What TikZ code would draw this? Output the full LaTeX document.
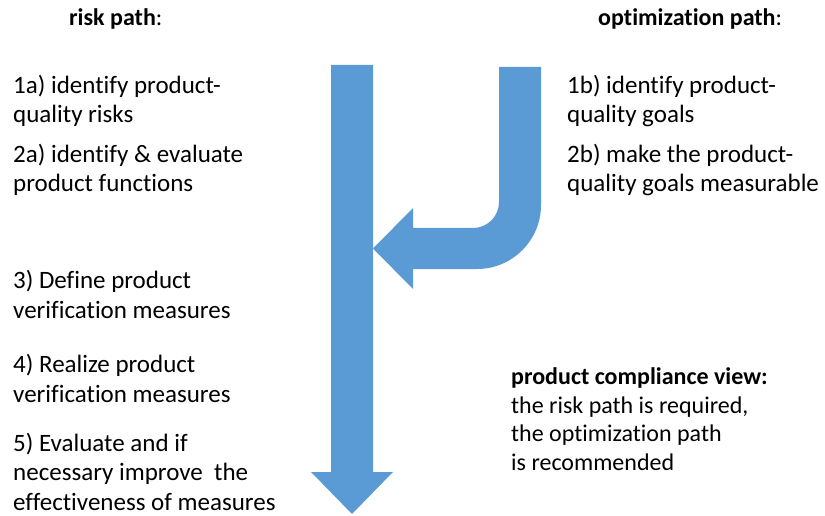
\documentclass[tikz,border=0pt]{standalone}
\usepackage{fontspec}
\setmainfont{Carlito}[Ligatures=NoCommon]
\definecolor{arrowblue}{HTML}{5B9BD5}
\begin{document}
\begin{tikzpicture}[x=1pt,y=1pt,
  txt/.style={inner sep=0pt,anchor=base west,align=left,font=\fontsize{25}{29.5}\selectfont},
  ttl/.style={inner sep=0pt,anchor=base west,font=\fontsize{24}{28}\selectfont},
  note/.style={inner sep=0pt,anchor=base west,align=left,font=\fontsize{24}{28.5}\selectfont},
  bigarrow/.style={fill=arrowblue,draw=none}]
\useasboundingbox (0,0) rectangle (825,515);
% main downward arrow
\fill[bigarrow] (331,450) -- (373,450) -- (373,43) -- (393,43) -- (352,1) -- (311,43) -- (331,43) -- cycle;
% bent arrow from optimization path
\fill[bigarrow] (499,448) -- (541,448) -- (541,310) arc[start angle=0,end angle=-90,radius=64]
  -- (413,246) -- (413,226) -- (373,266.5) -- (413,307) -- (413,287) -- (473,287)
  arc[start angle=270,end angle=360,radius=26] -- cycle;
% titles
\node[ttl] (risk) at (69,489) {\textbf{risk path}:};
\node[ttl] (opt) at (598,489) {\textbf{optimization path}:};
% risk path steps (anchored at the baseline of the last line)
\node[txt] (s1a) at (13,392) {1a) identify product-\\quality risks};
\node[txt] (s2a) at (13,323) {2a) identify \& evaluate\\product functions};
\node[txt] (s3) at (13,197) {3) Define product\\verification measures};
\node[txt] (s4) at (13,113) {4) Realize product\\verification measures};
\node[txt] (s5) at (13,5) {5) Evaluate and if\\necessary improve\ \ the\\effectiveness of measures};
% optimization path steps
\node[txt] (s1b) at (567,392) {1b) identify product-\\quality goals};
\node[txt] (s2b) at (567,323) {2b) make the product-\\quality goals measurable};
% compliance note
\node[note] (view) at (511,45) {\textbf{product compliance view:}\\the risk path is required,\\the optimization path\\is recommended};
\end{tikzpicture}
\end{document}
